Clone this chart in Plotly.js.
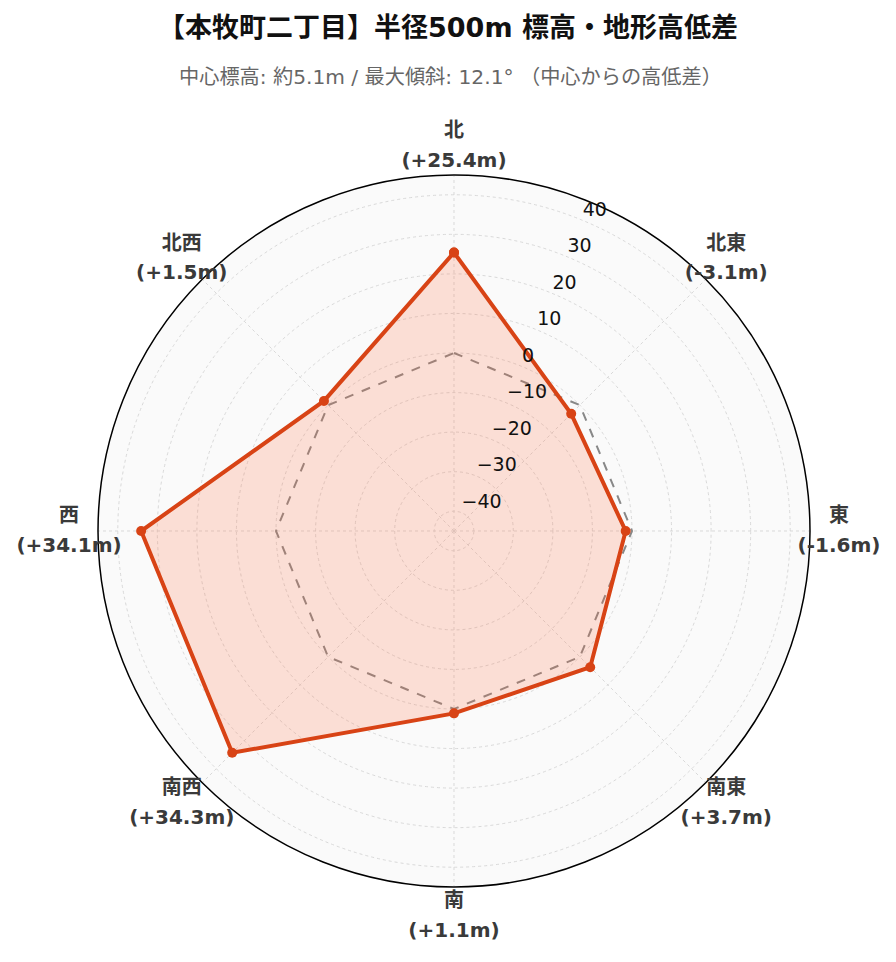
<!DOCTYPE html>
<html>
<head>
<meta charset="utf-8">
<script src="https://cdn.plot.ly/plotly-3.0.1.min.js"></script>
<style>html,body{margin:0;padding:0;background:#fff;}</style>
</head>
<body>
<div id="chart" style="width:896px;height:962px;"></div>
<script>
const directions = ["北", "北東", "東", "南東", "南", "南西", "西", "北西"];
const diffs = [25.4, -3.1, -1.6, 3.7, 1.1, 34.3, 34.1, 1.5];
const diffLabels = ["+25.4m", "-3.1m", "-1.6m", "+3.7m", "+1.1m", "+34.3m", "+34.1m", "+1.5m"];
const baseline = [0, 0, 0, 0, 0, 0, 0, 0];
const radialTicks = [-40, -30, -20, -10, 0, 10, 20, 30, 40];
const radialTickText = ["\u221240", "\u221230", "\u221220", "\u221210", "0", "10", "20", "30", "40"];

const W = 896, H = 962;
const CX = 454, CY = 531;          // chart centre (px from top-left)
const R_MAIN = 356;                // main polar radius, px
const R_LABEL_FRAME = 425;         // helper polar radius for the direction labels
const LABEL_OFFSET = 29;           // px outside the frame
const RLABEL_THETA = 22.5;         // radial tick labels direction (deg clockwise from north)
const R_RANGE = [-45, 45];

const sp = s => "<span style='font-size:20px'>" + s + "</span>";
const labelText = directions.map((d, i) => "<b>" + sp(d) + "<br>" + sp("(" + diffLabels[i] + ")") + "</b>");
const closeArr = a => a.concat([a[0]]);

const CJK = "DejaVu Sans, Noto Sans CJK JP, sans-serif";

function domainFor(r) {
  return {
    x: [(CX - r) / W, (CX + r) / W],
    y: [(H - CY - r) / H, (H - CY + r) / H]
  };
}

const traces = [
  {
    type: "scatterpolar",
    subplot: "polar",
    r: closeArr(baseline),
    theta: closeArr(directions),
    mode: "lines",
    line: {color: "#888888", width: 2, dash: "dash"},
    showlegend: false,
    hoverinfo: "skip"
  },
  {
    type: "scatterpolar",
    subplot: "polar",
    r: closeArr(diffs),
    theta: closeArr(directions),
    mode: "lines+markers",
    fill: "toself",
    fillcolor: "rgba(255,112,67,0.2)",
    line: {color: "#D84315", width: 4},
    marker: {color: "#D84315", size: 10},
    showlegend: false,
    hoverinfo: "skip"
  },
  {
    type: "scatterpolar",
    subplot: "polar3",
    r: radialTicks,
    theta: radialTicks.map(() => RLABEL_THETA),
    mode: "text",
    text: radialTickText,
    textposition: "top right",
    textfont: {family: "DejaVu Sans, sans-serif", size: 19, color: "#111"},
    cliponaxis: false,
    showlegend: false,
    hoverinfo: "skip"
  },
  {
    type: "scatterpolar",
    subplot: "polar2",
    r: directions.map(() => R_MAIN + LABEL_OFFSET),
    theta: directions,
    mode: "text",
    text: labelText,
    textposition: "middle center",
    textfont: {family: CJK, size: 23, color: "#3a3a3a"},
    cliponaxis: false,
    showlegend: false,
    hoverinfo: "skip"
  }
];

const layout = {
  width: W,
  height: H,
  margin: {l: 0, r: 0, t: 0, b: 0},
  paper_bgcolor: "#ffffff",
  font: {family: CJK},
  title: {
    text: "<b>【本牧町二丁目】半径500m 標高・地形高低差</b>",
    font: {family: CJK, size: 27, color: "#111"},
    x: 0.5, xanchor: "center",
    y: 1 - 28 / H, yref: "container", yanchor: "middle"
  },
  annotations: [{
    text: "中心標高: 約5.1m / 最大傾斜: 12.1° （中心からの高低差）",
    xref: "paper", yref: "paper",
    x: 450 / W, y: 1 - 77 / H, xanchor: "center", yanchor: "middle",
    showarrow: false,
    font: {family: CJK, size: 20.2, color: "#666"}
  }],
  polar: {
    domain: domainFor(R_MAIN),
    bgcolor: "#fafafa",
    radialaxis: {
      range: R_RANGE,
      tickvals: radialTicks,
      angle: 67.5,
      showticklabels: false,
      showline: false,
      gridcolor: "#d9d9d9",
      griddash: "dot",
      ticks: ""
    },
    angularaxis: {
      direction: "clockwise",
      rotation: 90,
      tickvals: directions,
      showticklabels: false,
      showline: true,
      linecolor: "#000",
      linewidth: 1.5,
      gridcolor: "#d9d9d9",
      griddash: "dot",
      ticks: ""
    }
  },
  polar3: {
    domain: domainFor(R_MAIN),
    bgcolor: "rgba(0,0,0,0)",
    radialaxis: {range: R_RANGE, visible: false},
    angularaxis: {
      type: "linear",
      thetaunit: "degrees",
      direction: "clockwise",
      rotation: 90,
      visible: false
    }
  },
  polar2: {
    domain: domainFor(R_LABEL_FRAME),
    bgcolor: "rgba(0,0,0,0)",
    radialaxis: {range: [0, R_LABEL_FRAME], visible: false},
    angularaxis: {
      direction: "clockwise",
      rotation: 90,
      visible: false
    }
  }
};

Plotly.newPlot("chart", traces, layout, {displayModeBar: false});
</script>
</body>
</html>
